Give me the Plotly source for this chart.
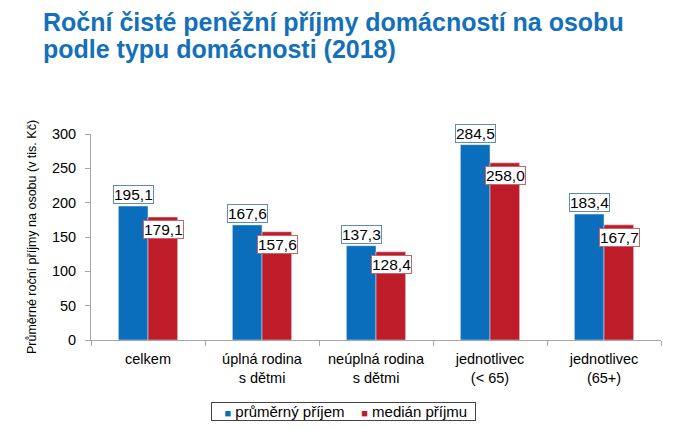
import plotly.graph_objects as go

categories = ["celkem", "úplná rodina<br>s dětmi", "neúplná rodina<br>s dětmi",
              "jednotlivec<br>(< 65)", "jednotlivec<br>(65+)"]
prumer = [195.1, 167.6, 137.3, 284.5, 183.4]
median = [179.1, 157.6, 128.4, 258.0, 167.7]
series_names = ["průměrný příjem", "medián příjmu"]
title_lines = ["Roční čisté peněžní příjmy domácností na osobu",
               "podle typu domácnosti (2018)"]
ytitle = "Průměrné roční příjmy na osobu (v tis. Kč)"
yticks = [0, 50, 100, 150, 200, 250, 300]

BLUE = "#0A6EBD"
RED = "#BE1C28"
FONT = "Liberation Sans, Arial, sans-serif"

# page body has an 8px margin, so the figure is 16px smaller than the window
W, H = 666, 414
L, R, T, B = 83, 13, 126, 82
PH = H - T - B
PW = W - L - R


def fmt(v):
    return f"{v:.1f}".replace(".", ",")


def py(y_px):
    return (H - B - y_px) / PH


def px(x_px):
    return (x_px - L) / PW


fig = go.Figure()
fig.add_trace(go.Bar(name=series_names[0], x=categories, y=prumer, marker_color=BLUE))
fig.add_trace(go.Bar(name=series_names[1], x=categories, y=median, marker_color=RED))

annotations = []
for c, v in zip(categories, prumer):
    annotations.append(dict(x=c, y=v, xref="x", yref="y", text=fmt(v), showarrow=False,
                            xshift=-15, yanchor="bottom", yshift=2,
                            font=dict(family=FONT, size=15.5, color="#000"),
                            bgcolor="white", bordercolor="#5B8DB8", borderwidth=1, borderpad=0))
for c, v in zip(categories, median):
    annotations.append(dict(x=c, y=v, xref="x", yref="y", text=fmt(v), showarrow=False,
                            xshift=15, yanchor="top", yshift=-3,
                            font=dict(family=FONT, size=15.5, color="#000"),
                            bgcolor="white", bordercolor="#C8646B", borderwidth=1, borderpad=0))

# title (two lines, placed separately for tighter line spacing)
for i, line in enumerate(title_lines):
    annotations.append(dict(text=line, xref="paper", yref="paper",
                            x=px(33), y=py(14 + 27 * i), xanchor="left", yanchor="middle",
                            align="left", showarrow=False,
                            font=dict(family=FONT, size=25, color="#1470BA", weight="bold")))

# legend box
legend_text = (f"&nbsp;&nbsp;&nbsp;<span style='color:{BLUE};font-size:11px'>■</span>&nbsp;{series_names[0]}"
               f"&nbsp;&nbsp;&nbsp;&nbsp;<span style='color:{RED};font-size:11px'>■</span>&nbsp;{series_names[1]}&nbsp;&nbsp;")
annotations.append(dict(text=legend_text, xref="paper", yref="paper",
                        x=px(335), y=py(403.5), xanchor="center", yanchor="middle",
                        showarrow=False, font=dict(family=FONT, size=15, color="#000"),
                        bordercolor="#444", borderwidth=1, borderpad=0, bgcolor="white"))

fig.update_layout(
    width=W, height=H,
    margin=dict(l=L, r=R, t=T, b=B, autoexpand=False),
    paper_bgcolor="white", plot_bgcolor="white",
    barmode="group", bargap=0.48, bargroupgap=0,
    font=dict(family=FONT, color="#000"),
    xaxis=dict(showline=True, linecolor="#A6A6A6", linewidth=1, automargin=False,
               ticks="outside", tickson="boundaries", ticklen=5, tickcolor="#A6A6A6",
               ticklabelstandoff=6,
               tickfont=dict(size=14.5, family=FONT, color="#000"), showgrid=False),
    yaxis=dict(range=[0, 300], tickvals=yticks, showline=True, linecolor="#A6A6A6",
               linewidth=1, ticks="outside", ticklen=5, tickcolor="#A6A6A6", automargin=False,
               showgrid=False, zeroline=False, ticklabelstandoff=6,
               tickfont=dict(size=14.5, family=FONT, color="#000"),
               title=dict(text=ytitle, font=dict(size=12.5, family=FONT, color="#000"), standoff=12)),
    annotations=annotations,
    showlegend=False,
)

fig.write_html("out.html")
